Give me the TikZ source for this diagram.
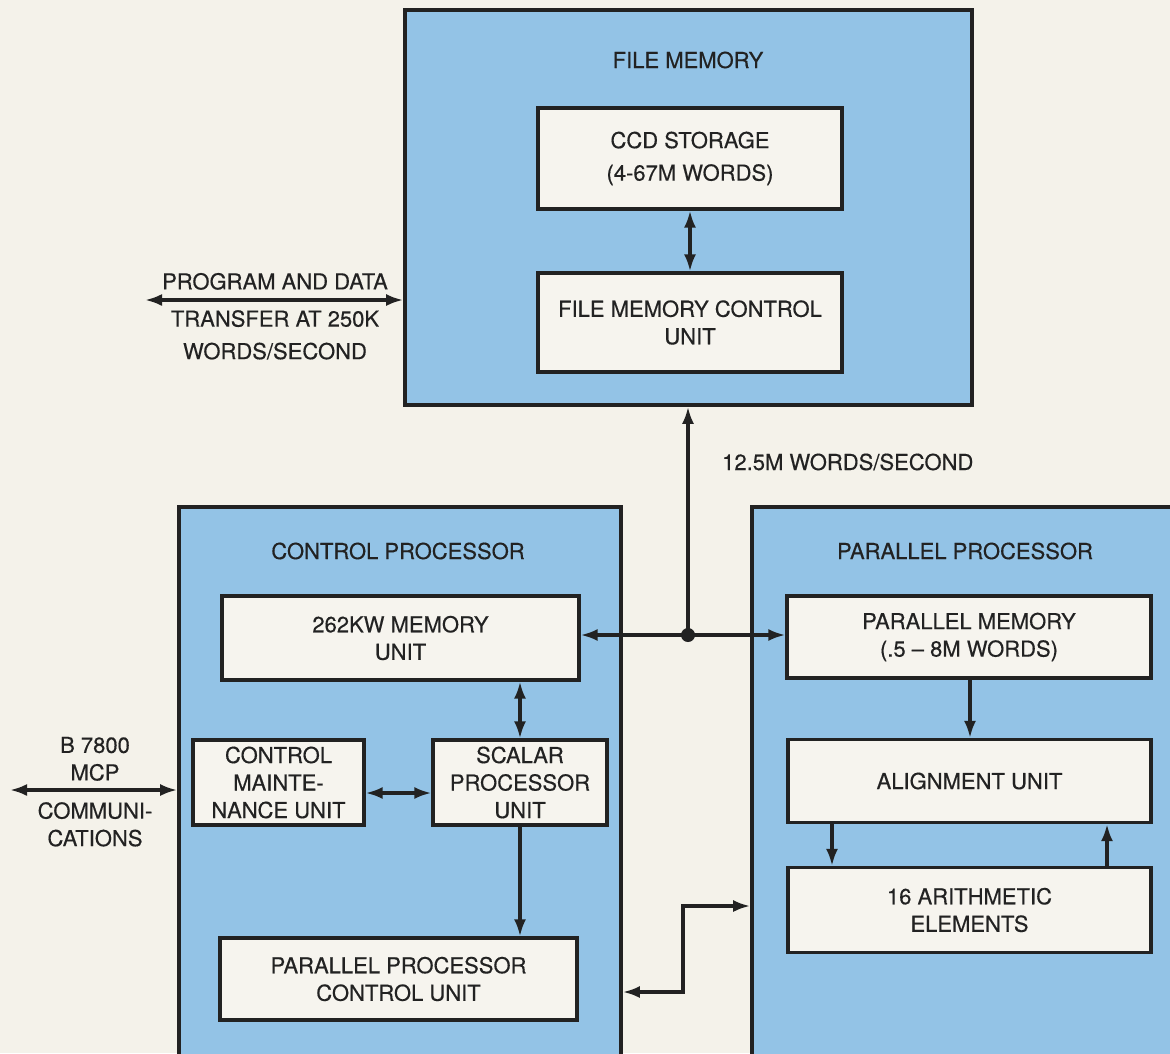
\documentclass[tikz,border=0pt]{standalone}
\usepackage{fontspec}
\setmainfont{TeX Gyre Heros}
\newfontfamily\diagfont[FakeBold=0.4, Ligatures=TeX]{TeX Gyre Heros}
\usetikzlibrary{arrows.meta,positioning}
\definecolor{paper}{HTML}{F4F2EA}
\definecolor{panel}{HTML}{93C3E6}
\definecolor{card}{HTML}{F6F4EE}
\definecolor{ink}{HTML}{222222}

\begin{document}
\begin{tikzpicture}[x=1pt, y=-1pt,
  panel/.style={draw=ink, fill=panel, line width=3.6pt, inner sep=0pt},
  unit/.style={draw=ink, fill=card, line width=3.2pt, text=ink, align=center,
               font=\diagfont\fontsize{22}{27.5}\selectfont, inner sep=0pt},
  caption/.style={text=ink, align=center, font=\diagfont\fontsize{22}{27.5}\selectfont, inner sep=0pt},
  link/.style={draw=ink, line width=3.2pt, {Latex[length=17pt,width=12pt]}-{Latex[length=17pt,width=12pt]}},
  feed/.style={draw=ink, line width=3.2pt, -{Latex[length=17pt,width=12pt]}},
]
  \fill[paper] (0,0) rectangle (1170,1053);
  \clip (0,0) rectangle (1170,1053);

  % file memory
  \node[panel, minimum width=567pt, minimum height=395pt] (fm) at (688.5,207.5) {};
  \node[caption] (fmt) at (688,60) {FILE MEMORY};
  \node[unit, minimum width=304pt, minimum height=101pt] (ccd) at (690,158.5) {CCD STORAGE\\[5pt](4-67M WORDS)};
  \node[unit, minimum width=304pt, minimum height=99pt] (fmcu) at (690,322.5) {FILE MEMORY CONTROL\\UNIT};

  % control processor
  \node[panel, minimum width=442pt, minimum height=570pt] (cp) at (400,792) {};
  \node[caption] (cpt) at (398,551) {CONTROL PROCESSOR};
  \node[unit, minimum width=357pt, minimum height=84pt] (mem) at (400.5,638) {262KW MEMORY\\UNIT};
  \node[unit, minimum width=171pt, minimum height=85pt] (cmu) at (278.5,782.5) {CONTROL\\MAINTE-\\NANCE UNIT};
  \node[unit, minimum width=174pt, minimum height=85pt] (spu) at (520,782.5) {SCALAR\\PROCESSOR\\UNIT};
  \node[unit, minimum width=357pt, minimum height=82pt] (ppcu) at (398.5,979) {PARALLEL PROCESSOR\\CONTROL UNIT};

  % parallel processor
  \node[panel, minimum width=440pt, minimum height=570pt] (pp) at (972,792) {};
  \node[caption] (ppt) at (965,551) {PARALLEL PROCESSOR};
  \node[unit, minimum width=364pt, minimum height=82pt] (pmem) at (969,637) {PARALLEL MEMORY\\(.5 \textendash\ 8M WORDS)};
  \node[unit, minimum width=363pt, minimum height=83pt] (align) at (969.5,781) {ALIGNMENT UNIT};
  \node[unit, minimum width=363pt, minimum height=85pt] (arith) at (969.5,910) {16 ARITHMETIC\\ELEMENTS};

  % outside links and their notes
  \coordinate (pgl) at (145,300);
  \coordinate (pgc) at (275,300);
  \coordinate (mcl) at (10,790);
  \coordinate (mcc) at (95,790);
  \coordinate (jn) at (688,635);
  \node[caption, above=10pt of pgc] (pgt) {PROGRAM AND DATA};
  \node[caption, below=10pt of pgc] (pgb) {TRANSFER AT 250K\\[5pt]WORDS/SECOND};
  \node[caption, above=9pt of mcc] (mct) {B 7800\\MCP};
  \node[caption, below=12pt of mcc] (mcb) {COMMUNI-\\CATIONS};
  \node[caption, anchor=west] (bus) at (722,462) {12.5M WORDS/SECOND};

  \draw[link] (pgl) -- (pgl -| fm.west);
  \draw[link] (mcl) -- (mcl -| cp.west);
  \draw[link] (ccd) -- (fmcu);

  % bus junction
  \draw[feed] (jn) -- (jn |- fm.south);
  \draw[link] (mem.east |- jn) -- (pmem.west |- jn);
  \fill[ink] (jn) circle (7pt);

  % inside control processor
  \draw[link] (mem.south -| spu.north) -- (spu.north);
  \draw[link] (cmu.east |- 0,793) -- (spu.west |- 0,793);
  \draw[feed] (spu.south) -- (spu.south |- ppcu.north);
  \draw[link] (cp.east |- 0,992) -- (683,992) |- (pp.west |- 0,906);

  % inside parallel processor
  \draw[feed] (pmem.south -| 970,0) -- (align.north -| 970,0);
  \draw[feed] (align.south -| 832,0) -- (arith.north -| 832,0);
  \draw[feed] (arith.north -| 1107,0) -- (align.south -| 1107,0);
\end{tikzpicture}
\end{document}
